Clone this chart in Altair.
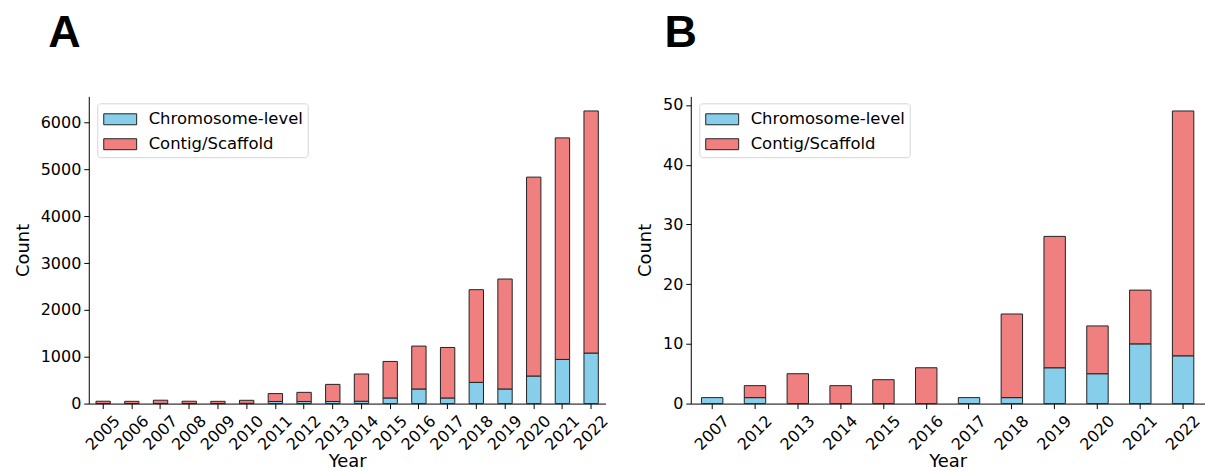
import altair as alt
import pandas as pd

# Panel A data
years_a = [2005, 2006, 2007, 2008, 2009, 2010, 2011, 2012, 2013,
           2014, 2015, 2016, 2017, 2018, 2019, 2020, 2021, 2022]
chrom_a = [2, 2, 3, 2, 2, 5, 45, 45, 45, 50, 120, 312, 120, 453, 312, 589, 943, 1079]
contig_a = [48, 46, 69, 48, 46, 65, 168, 195, 365, 582, 780, 916, 1078, 1979, 2348, 4247, 4731, 5170]

# Panel B data
years_b = [2007, 2012, 2013, 2014, 2015, 2016, 2017, 2018, 2019, 2020, 2021, 2022]
chrom_b = [1, 1, 0, 0, 0, 0, 1, 1, 6, 5, 10, 8]
contig_b = [0, 2, 5, 3, 4, 6, 0, 14, 22, 8, 9, 41]

types = ["Chromosome-level", "Contig/Scaffold"]
colors = ["#87CEEB", "#F08080"]

ticks_a = [0, 1000, 2000, 3000, 4000, 5000, 6000]
ticks_b = [0, 10, 20, 30, 40, 50]


def make_df(years, chrom, contig):
    rows = []
    for y, c, s in zip(years, chrom, contig):
        if c > 0:
            rows.append({"Year": str(y), "Type": types[0], "Count": c, "ord": 0})
        if s > 0:
            rows.append({"Year": str(y), "Type": types[1], "Count": s, "ord": 1})
    return pd.DataFrame(rows)


LEG_PATH = "M-1.5,-0.5L1.5,-0.5L1.5,0.5L-1.5,0.5Z"
FONT = "DejaVu Sans"


def panel(df, years, ymax, yvals, width, title, dx):
    return alt.Chart(
        df,
        title=alt.TitleParams(
            title, anchor="start", fontSize=45, font="Liberation Sans",
            fontWeight="bold", dx=dx, offset=40, frame="bounds", color="black",
        ),
    ).mark_bar(stroke="#222222", strokeWidth=1).encode(
        x=alt.X(
            "Year:N",
            sort=[str(y) for y in years],
            scale=alt.Scale(paddingInner=0.5, paddingOuter=0.25),
            axis=alt.Axis(
                title="Year", labelAngle=-45, labelAlign="center",
                labelBaseline="middle", labelPadding=24, titlePadding=0,
            ),
        ),
        y=alt.Y(
            "Count:Q",
            stack="zero",
            scale=alt.Scale(domain=[0, ymax], nice=False, zero=True),
            axis=alt.Axis(values=yvals, title="Count", titlePadding=8, format="d"),
        ),
        color=alt.Color(
            "Type:N",
            scale=alt.Scale(domain=types, range=colors),
            legend=alt.Legend(
                title=None, orient="none", legendX=8.5, legendY=7,
                fillColor="white", strokeColor="#d6d6d6", cornerRadius=3,
                padding=4.5, symbolType=LEG_PATH, symbolSize=484,
                symbolOffset=7, symbolStrokeColor="#222222",
                symbolStrokeWidth=1, symbolOpacity=1, labelFontSize=16.5,
                labelFont=FONT, labelColor="black", labelOffset=17,
                rowPadding=5,
            ),
        ),
        order=alt.Order("ord:Q"),
    ).properties(width=width, height=308)


chart_a = panel(make_df(years_a, chrom_a, contig_a), years_a, 6561, ticks_a, 518, "A", 34)
chart_b = panel(make_df(years_b, chrom_b, contig_b), years_b, 51.45, ticks_b, 515, "B", 28)

chart = alt.hconcat(chart_a, chart_b, spacing=24.5).resolve_scale(
    color="independent"
).resolve_legend(color="independent").properties(
    padding={"left": 14, "top": 11, "right": 0, "bottom": 0}
).configure_view(stroke=None).configure_axis(
    grid=False,
    domainColor="black",
    domainWidth=1,
    tickColor="black",
    tickSize=5,
    labelPadding=3,
    labelFont=FONT,
    labelFontSize=16,
    labelColor="black",
    titleFont=FONT,
    titleFontSize=18,
    titleFontWeight="normal",
    titleColor="black",
)

chart.save("out.html", embed_options={"renderer": "svg", "actions": False})
